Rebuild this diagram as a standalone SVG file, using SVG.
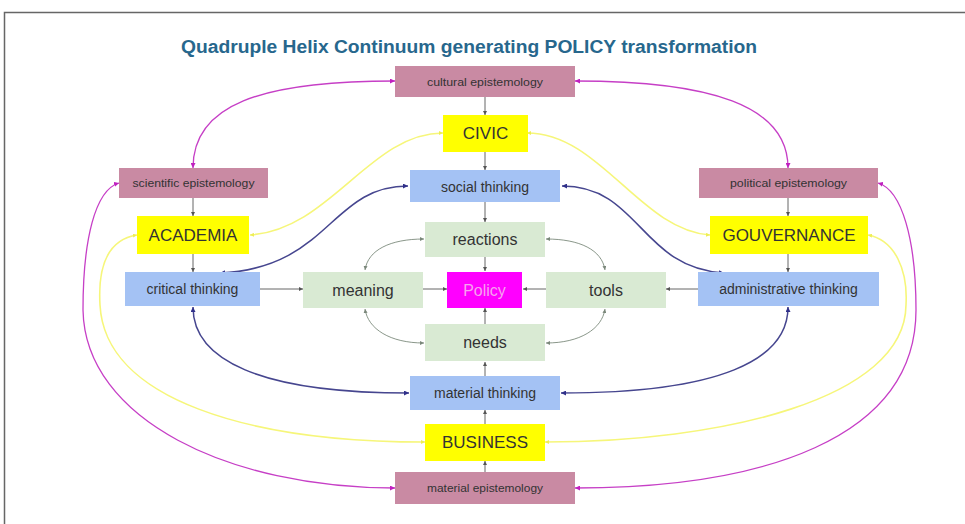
<svg xmlns="http://www.w3.org/2000/svg" width="965" height="524" viewBox="0 0 965 524">
<style>
.t{font-family:"Liberation Sans",Arial,sans-serif;fill:#333;text-anchor:middle;dominant-baseline:central}
.ep{fill:#c98aa3}
.yl{fill:#ffff00}
.bl{fill:#a4c2f4}
.gr{fill:#d9ead3}
.mg{fill:#ff00ff}
.s{font-size:11px}
.m{font-size:14px}
.l{font-size:17px}
.g{font-size:16px}
.gy{fill:none;stroke:#666;stroke-width:1;marker-end:url(#ag)}
.gc{fill:none;stroke:#8a978a;stroke-width:1;marker-start:url(#ac);marker-end:url(#ac)}
.nv{fill:none;stroke:#46468f;stroke-width:1.5;marker-start:url(#an);marker-end:url(#an)}
.ye{fill:none;stroke:#f6f67a;stroke-width:1.6;marker-start:url(#ay);marker-end:url(#ay)}
.pk{fill:none;stroke:#c63fc6;stroke-width:1.3;marker-start:url(#ap);marker-end:url(#ap)}
</style>
<defs>
<marker id="ag" viewBox="0 0 6 6" refX="6" refY="3" markerWidth="4" markerHeight="4" markerUnits="userSpaceOnUse" orient="auto-start-reverse"><path d="M0,0L6,3L0,6z" fill="#555"/></marker>
<marker id="ac" viewBox="0 0 6 6" refX="6" refY="3" markerWidth="4" markerHeight="4" markerUnits="userSpaceOnUse" orient="auto-start-reverse"><path d="M0,0L6,3L0,6z" fill="#7a877a"/></marker>
<marker id="an" viewBox="0 0 6 6" refX="6" refY="3" markerWidth="5" markerHeight="5" markerUnits="userSpaceOnUse" orient="auto-start-reverse"><path d="M0,0L6,3L0,6z" fill="#30308a"/></marker>
<marker id="ay" viewBox="0 0 6 6" refX="6" refY="3" markerWidth="4" markerHeight="4" markerUnits="userSpaceOnUse" orient="auto-start-reverse"><path d="M0,0L6,3L0,6z" fill="#eeee55"/></marker>
<marker id="ap" viewBox="0 0 6 6" refX="6" refY="3" markerWidth="5" markerHeight="5" markerUnits="userSpaceOnUse" orient="auto-start-reverse"><path d="M0,0L6,3L0,6z" fill="#c020c0"/></marker>
</defs>
<rect x="0" y="0" width="965" height="524" fill="#fff"/>
<path d="M4.5 524V12.5H965" fill="none" stroke="#666" stroke-width="1.5"/>
<text x="469" y="47" font-family="Liberation Sans,Arial,sans-serif" font-weight="bold" font-size="18" fill="#27678d" text-anchor="middle" dominant-baseline="central" textLength="576" lengthAdjust="spacingAndGlyphs">Quadruple Helix Continuum generating POLICY transformation</text>

<g id="connectors">
<path class="gy" d="M485 97V115"/>
<path class="gy" d="M485 152V170"/>
<path class="gy" d="M485 202V222"/>
<path class="gy" d="M485 257V271"/>
<path class="gy" d="M485 324V308"/>
<path class="gy" d="M485 376V362"/>
<path class="gy" d="M485 424V410"/>
<path class="gy" d="M485 472V461"/>
<path class="gy" d="M193 198V216"/>
<path class="gy" d="M193 254V272"/>
<path class="gy" d="M788 198V216"/>
<path class="gy" d="M788 254V272"/>
<path class="gy" d="M260 289H303"/>
<path class="gy" d="M423 289H447"/>
<path class="gy" d="M546 289H523"/>
<path class="gy" d="M698 289H666"/>

<path class="gc" d="M365 270C368 250 390 239 424 239"/>
<path class="gc" d="M365 309C368 329 390 343 424 343"/>
<path class="gc" d="M605 270C602 250 580 239 546 239"/>
<path class="gc" d="M605 309C602 329 580 343 546 343"/>

<path class="nv" d="M408 186C330 186 330 268 220 273"/>
<path class="nv" d="M562 186C640 186 640 268 724 273"/>
<path class="nv" d="M193 307C193 360 260 393 409 393"/>
<path class="nv" d="M788 307C788 360 720 393 561 393"/>

<path class="ye" d="M443 133C370 133 330 230 250 235"/>
<path class="ye" d="M527 133C600 133 640 230 710 235"/>
<path class="ye" d="M137 235C105 240 98 270 100 305C105 400 250 442 425 442"/>
<path class="ye" d="M868 235C895 240 908 270 906 305C905 400 720 442 545 442"/>

<path class="pk" d="M395 81C260 81 193 105 193 168"/>
<path class="pk" d="M575 81C710 81 788 105 788 168"/>
<path class="pk" d="M119 183C95 190 83 240 83 310C85 420 230 488 395 488"/>
<path class="pk" d="M878 183C902 190 916 240 916 310C916 440 760 488 575 488"/>
</g>

<g id="cultural-epistemology"><rect class="ep" x="395" y="66" width="180" height="31"/><text class="t s" x="485" y="81.5" textLength="116" lengthAdjust="spacingAndGlyphs">cultural epistemology</text></g>
<g id="civic"><rect class="yl" x="443" y="115" width="85" height="37"/><text class="t l" x="485.5" y="133.5">CIVIC</text></g>
<g id="social-thinking"><rect class="bl" x="410" y="170" width="150" height="32"/><text class="t m" x="485" y="186.5">social thinking</text></g>
<g id="reactions"><rect class="gr" x="425" y="222" width="120" height="35"/><text class="t g" x="485" y="239.5">reactions</text></g>
<g id="policy"><rect class="mg" x="447" y="272" width="75" height="36"/><text class="t g" x="484.5" y="290" style="fill:#f7a3ef">Policy</text></g>
<g id="meaning"><rect class="gr" x="303" y="272" width="120" height="36"/><text class="t g" x="363" y="290">meaning</text></g>
<g id="tools"><rect class="gr" x="546" y="272" width="120" height="36"/><text class="t g" x="606" y="290">tools</text></g>
<g id="needs"><rect class="gr" x="425" y="324" width="120" height="37"/><text class="t g" x="485" y="342.5">needs</text></g>
<g id="material-thinking"><rect class="bl" x="410" y="376" width="150" height="34"/><text class="t m" x="485" y="393">material thinking</text></g>
<g id="business"><rect class="yl" x="425" y="424" width="120" height="37"/><text class="t l" x="485" y="442.5">BUSINESS</text></g>
<g id="material-epistemology"><rect class="ep" x="395" y="472" width="180" height="32"/><text class="t s" x="485" y="488" textLength="116" lengthAdjust="spacingAndGlyphs">material epistemology</text></g>
<g id="scientific-epistemology"><rect class="ep" x="119" y="168" width="149" height="30"/><text class="t s" x="193.5" y="183" textLength="122" lengthAdjust="spacingAndGlyphs">scientific epistemology</text></g>
<g id="academia"><rect class="yl" x="137" y="216" width="112" height="38"/><text class="t l" x="193" y="235">ACADEMIA</text></g>
<g id="critical-thinking"><rect class="bl" x="125" y="272" width="135" height="34"/><text class="t m" x="192.5" y="289">critical thinking</text></g>
<g id="political-epistemology"><rect class="ep" x="699" y="168" width="179" height="30"/><text class="t s" x="788.5" y="183" textLength="117" lengthAdjust="spacingAndGlyphs">political epistemology</text></g>
<g id="gouvernance"><rect class="yl" x="710" y="216" width="158" height="38"/><text class="t l" x="789" y="235">GOUVERNANCE</text></g>
<g id="administrative-thinking"><rect class="bl" x="698" y="272" width="181" height="34"/><text class="t m" x="788.5" y="289">administrative thinking</text></g>
</svg>
